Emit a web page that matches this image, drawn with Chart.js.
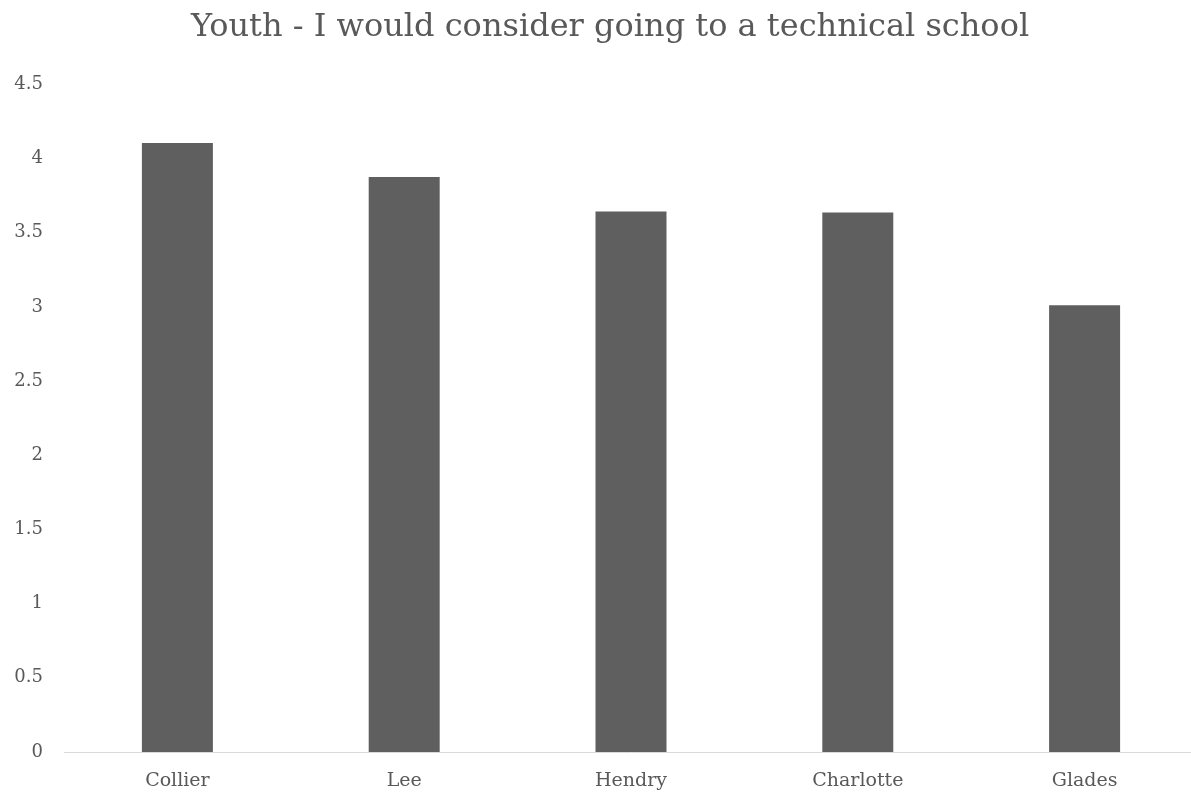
<!DOCTYPE html>
<html>
<head>
<meta charset="utf-8">
<script src="https://cdn.jsdelivr.net/npm/chart.js@4"></script>
<style>
  body { margin: 0; background: #fff; overflow: hidden; }
  #wrap { width: 1191px; height: 798px; overflow: hidden; }
</style>
</head>
<body>
<div id="wrap"><canvas id="myChart" width="1198" height="798"></canvas></div>
<script>
const counties = ["Collier", "Lee", "Hendry", "Charlotte", "Glades"];
const scores = [4.105, 3.876, 3.644, 3.637, 3.012];
const yTicks = [0, 0.5, 1, 1.5, 2, 2.5, 3, 3.5, 4, 4.5];

const textColor = "#595959";
const fontFamily = "'DejaVu Serif', 'Liberation Serif', serif";

// the left padding (used to centre the title like the original) would clip the y labels
const unclipYLabels = {
    id: "unclipYLabels",
    afterLayout(chart) {
        chart.scales.y.left = 0;
    }
};

new Chart(document.getElementById("myChart"), {
    type: "bar",
    data: {
        labels: counties,
        datasets: [{
            label: "Score",
            data: scores,
            backgroundColor: "#5f5f5f",
            borderWidth: 0,
            categoryPercentage: 1,
            barPercentage: 0.313
        }]
    },
    options: {
        responsive: false,
        animation: false,
        layout: { padding: { top: 0, left: 22, bottom: 0, right: 0 } },
        plugins: {
            legend: { display: false },
            tooltip: { enabled: false },
            title: {
                display: true,
                text: "Youth - I would consider going to a technical school",
                color: textColor,
                font: { family: fontFamily, size: 32, weight: "normal" },
                padding: { top: 8, bottom: 38 }
            }
        },
        scales: {
            x: {
                grid: { display: false },
                border: { display: true, color: "#d9d9d9", width: 1 },
                ticks: { color: textColor, font: { family: fontFamily, size: 19 }, padding: 10 },
                afterFit: (scale) => { scale.height = 46; }
            },
            y: {
                min: 0,
                max: 4.5,
                grid: { display: false },
                border: { display: false },
                afterBuildTicks: (scale) => { scale.ticks = yTicks.map(v => ({ value: v })); },
                ticks: {
                    color: textColor,
                    font: { family: fontFamily, size: 18 },
                    padding: 13,
                    callback: (v) => String(v)
                },
                afterFit: (scale) => { scale.width = 42; }
            }
        }
    },
    plugins: [unclipYLabels]
});
</script>
</body>
</html>
